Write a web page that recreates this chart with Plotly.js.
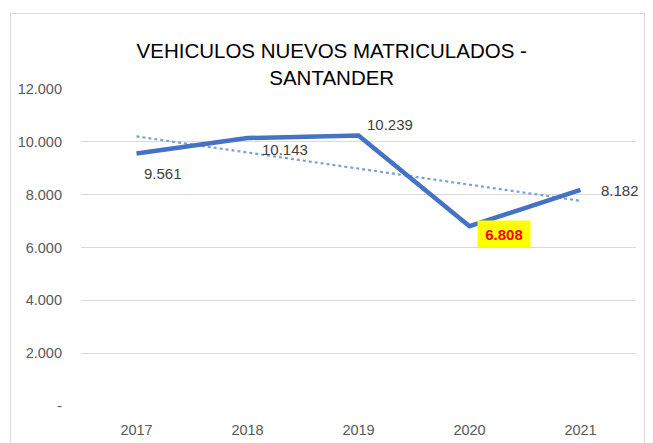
<!DOCTYPE html>
<html>
<head>
<meta charset="utf-8">
<script src="https://cdn.plot.ly/plotly-3.0.1.min.js"></script>
<style>
html,body{margin:0;padding:0;background:#fff;}
#frame{position:absolute;left:10px;top:13px;width:635px;height:440px;border:1px solid #d9d9d9;box-sizing:border-box;}
#chart{position:absolute;left:0;top:0;width:653px;height:443px;}
</style>
</head>
<body>
<div id="frame"></div>
<div id="chart"></div>
<script>
const years = ["2017", "2018", "2019", "2020", "2021"];
const values = [9561, 10143, 10239, 6808, 8182];
const valueLabels = ["9.561", "10.143", "10.239", "6.808", "8.182"];
const yTickVals = [0, 2000, 4000, 6000, 8000, 10000, 12000];
const yTickText = ["-", "2.000", "4.000", "6.000", "8.000", "10.000", "12.000"];

// linear trend line (least squares), as in the spreadsheet trendline
const n = values.length;
const xs = values.map((_, i) => i + 1);
const mx = xs.reduce((a, b) => a + b, 0) / n;
const my = values.reduce((a, b) => a + b, 0) / n;
let sxy = 0, sxx = 0;
for (let i = 0; i < n; i++) { sxy += (xs[i] - mx) * (values[i] - my); sxx += (xs[i] - mx) ** 2; }
const slope = sxy / sxx;
const trend = xs.map(x => my + slope * (x - mx));

const FONT = "Liberation Sans, Arial, sans-serif";

const traces = [
  { x: years, y: trend, type: "scatter", mode: "lines",
    line: { color: "#7f9fd8", width: 2.2, dash: "dot" }, hoverinfo: "skip" },
  { x: years, y: values, type: "scatter", mode: "lines",
    line: { color: "#4472C4", width: 4.5 } }
];

const labelPos = [
  { xshift: 26, yshift: -20, xanchor: "center" },
  { xshift: 37, yshift: -11, xanchor: "center" },
  { xshift: 31, yshift: 11, xanchor: "center" },
  { xshift: 34, yshift: -8, xanchor: "center" },
  { xshift: 18, yshift: -1, xanchor: "left" }
];

const annotations = years.map((yr, i) => {
  const a = {
    x: i, y: values[i], xref: "x", yref: "y", text: valueLabels[i],
    showarrow: false, xanchor: labelPos[i].xanchor, yanchor: "middle",
    xshift: labelPos[i].xshift, yshift: labelPos[i].yshift,
    font: { family: FONT, size: 15, color: "#404040" }
  };
  if (i === 3) {
    a.text = "<b>" + valueLabels[i] + "</b>";
    a.font = { family: FONT, size: 15, color: "#ff0000" };
    a.bgcolor = "#ffff00";
    a.width = 52;
    a.height = 26;
    a.borderpad = 0;
  }
  return a;
});

const layout = {
  width: 653, height: 443,
  paper_bgcolor: "rgba(0,0,0,0)", plot_bgcolor: "rgba(0,0,0,0)",
  margin: { l: 81, r: 17, t: 89, b: 37 },
  showlegend: false,
  title: { text: "VEHICULOS NUEVOS MATRICULADOS -<br>SANTANDER",
    font: { family: FONT, size: 20.5, color: "#000000" },
    x: 0.508, xanchor: "center", y: 0.868, yanchor: "top" },
  xaxis: { type: "category", range: [-0.5, 4.5], showgrid: false, zeroline: false,
    showline: false, ticks: "", ticklabelstandoff: 13,
    tickfont: { family: FONT, size: 14.5, color: "#595959" } },
  yaxis: { range: [0, 12000], tickvals: yTickVals, ticktext: yTickText,
    showgrid: true, gridcolor: "#d9d9d9", gridwidth: 1.3, zeroline: false,
    ticks: "", ticklabelstandoff: 18,
    tickfont: { family: FONT, size: 14.5, color: "#595959" } },
  annotations: annotations
};

Plotly.newPlot("chart", traces, layout, { displayModeBar: false, staticPlot: true });
</script>
</body>
</html>
